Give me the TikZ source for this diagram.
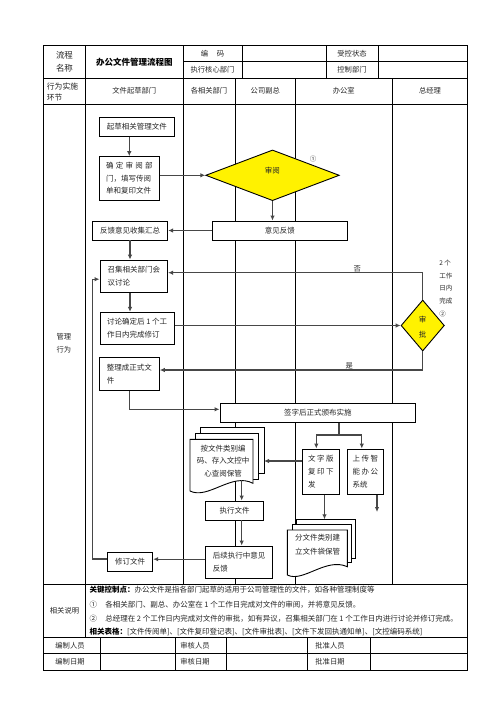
\documentclass[tikz,border=0pt]{standalone}
\usepackage{fontspec}
\setmainfont{Noto Sans CJK SC}
\newfontfamily\cjk{Noto Sans CJK SC}
\usetikzlibrary{arrows.meta,shapes.geometric}
\newcommand\myfs[2]{\fontsize{#1}{#2}\selectfont}
\begin{document}
\begin{tikzpicture}[x=1pt,y=-1pt,
  tbl/.style={line width=0.9pt},
  box/.style={draw, line width=0.9pt, fill=white, inner sep=0pt, align=left, font=\myfs{7.5}{12.8}, text=black!85},
  dia/.style={diamond, draw, line width=0.9pt, fill=yellow, inner sep=0pt},
  arr/.style={line width=1.3pt, draw=black!72, -{Latex[length=5pt,width=4.5pt]}},
  ln/.style={line width=1.3pt, draw=black!72},
  lbl/.style={inner sep=0pt, font=\myfs{7.3}{12}, text=black!85},
  doc/.style={draw, line width=0.9pt, fill=white}
]
\fill[white] (0,0) rectangle (496,702);
\useasboundingbox (0,0) rectangle (496,702);

% ---------- table ----------
\draw[tbl] (43.3,45) rectangle (467.7,670);
\draw[tbl] (183,61.7) -- (467.7,61.7);
\foreach \y in {78.3,104,584.3,637.3,653.3} \draw[tbl] (43.3,\y) -- (467.7,\y);
\draw[tbl] (85.7,45) -- (85.7,637.3);
\draw[tbl] (183,45) -- (183,584.3);
\foreach \x in {242,326,378} \draw[tbl] (\x,45) -- (\x,78.3);
\foreach \x in {235.3,295.3,392.3} \draw[tbl] (\x,78.3) -- (\x,584.3);
\foreach \x in {100.7,175.7,226,307.7,370} \draw[tbl] (\x,637.3) -- (\x,670);

% ---------- header texts ----------
\node[lbl, align=center, font=\myfs{8.5}{12.5}] (hA) at (64.5,62) {流程\\名称};
\node[lbl, font=\bfseries\myfs{8.5}{10}, text=black] (hT) at (134.3,62) {办公文件管理流程图};
\node[lbl] (hB) at (212.5,53.5) {编\hspace{1.2em}码};
\node[lbl] (hC) at (212.5,70) {执行核心部门};
\node[lbl] (hD) at (352,53.5) {受控状态};
\node[lbl] (hE) at (352,70) {控制部门};
\node[lbl, align=left, font=\myfs{7.8}{11}] (hF) at (62.5,91.8) {行为实施\\环节};
\node[lbl] (hG) at (134.3,91) {文件起草部门};
\node[lbl] (hH) at (209,91) {各相关部门};
\node[lbl] (hI) at (265.3,91) {公司副总};
\node[lbl] (hJ) at (343.8,91) {办公室};
\node[lbl] (hK) at (430,91) {总经理};
\node[lbl, align=center, font=\myfs{7.3}{13}] (hL) at (63.8,343.5) {管理\\行为};
\node[lbl] (hM) at (64.5,610.8) {相关说明};

% ---------- explanation ----------
\tikzset{expl/.style={lbl, anchor=west, font=\myfs{7.5}{12}}}
\node[expl] (e1) at (89.3,589.5) {{\bfseries\color{black}关键控制点：}办公文件是指各部门起草的适用于公司管理性的文件，如各种管理制度等};
\node[expl] (e2) at (89.3,604.5) {①\hspace{1.1em}各相关部门、副总、办公室在 1 个工作日完成对文件的审阅，并将意见反馈。};
\node[expl] (e3) at (89.3,619) {②\hspace{1.1em}总经理在 2 个工作日内完成对文件的审批，如有异议，召集相关部门在 1 个工作日内进行讨论并修订完成。};
\node[expl] (e4) at (89.3,632) {{\bfseries\color{black}相关表格：}[文件传阅单]、[文件复印登记表]、[文件审批表]、[文件下发回执通知单]、[文控编码系统]};

% ---------- bottom rows ----------
\node[lbl] (b1) at (70,645.3) {编制人员};
\node[lbl] (b2) at (195,645.3) {审核人员};
\node[lbl] (b3) at (330,645.3) {批准人员};
\node[lbl] (b4) at (70,661.7) {编制日期};
\node[lbl] (b5) at (195,661.7) {审核日期};
\node[lbl] (b6) at (330,661.7) {批准日期};

% ---------- document stacks ----------
\draw[doc] (200,427.3) rectangle (264,473.3);
\draw[doc] (195,433.3) rectangle (258.5,479);
\draw[doc] (190,439.3) -- (190,491) .. controls (208,500) and (232,472) .. (253,483.3) -- (253,439.3) -- cycle;
\node[lbl, align=center, font=\myfs{7.5}{12.5}] (t1) at (223,461) {按文件类别编\\码、存入文控中\\心查阅保管};

\draw[doc] (296.7,519.3) rectangle (355,558.3);
\draw[doc] (292,524.5) rectangle (351.5,562.7);
\draw[doc] (287.3,530) -- (287.3,575) .. controls (303,583) and (326,557) .. (347.3,566.7) -- (347.3,530) -- cycle;
\node[lbl, align=center, font=\myfs{7.5}{14}] (t2) at (317.5,544.5) {分文件类别建\\立文件袋保管};

% ---------- flow nodes ----------
\node[box, minimum width=75pt, minimum height=18.7pt] (n1) at (136.8,126.7) {起草相关管理文件};
\node[box, minimum width=60pt, minimum height=43.3pt, font=\myfs{7.5}{12.7}] (n2) at (129.3,178.3)
  {\makebox[46.5pt][l]{确\hfill 定\hfill 审\hfill 阅\hfill 部}\\门，填写传阅\\单和复印文件};
\node[dia, minimum width=133.6pt, minimum height=50.7pt] (d1) at (272.5,175.3) {};
\node[lbl, font=\myfs{7.5}{12}] (d1t) at (272.3,171) {审阅};
\node[lbl, font=\myfs{6.5}{10}] (c1) at (313,159) {①};
\node[box, minimum width=135pt, minimum height=19pt] (n3) at (279.8,230.5) {意见反馈};
\node[box, minimum width=75.4pt, minimum height=19pt] (n4) at (130,230.5) {反馈意见收集汇总};
\node[box, minimum width=67.7pt, minimum height=32.3pt, font=\myfs{7.5}{13}] (n5) at (133.8,276.2) {召集相关部门会\\议讨论};
\node[box, minimum width=74.3pt, minimum height=32pt, font=\myfs{7.5}{13.3}] (n6) at (137.2,328.3) {讨论确定后 1 个工\\作日内完成修订};
\node[dia, minimum width=43.3pt, minimum height=51pt] (d2) at (422.7,325.5) {};
\node[lbl, align=center, font=\myfs{7.5}{14.3}] (d2t) at (422.5,327.2) {审\\批};
\node[lbl, align=left, font=\myfs{6.5}{12.8}] (sn) at (445.8,288.5) {2 个\\工作\\日内\\完成\\②};
\node[box, minimum width=60pt, minimum height=33.4pt, font=\myfs{7.5}{12.6}] (n7) at (129.3,374) {整理成正式文\\件};
\node[box, minimum width=195.7pt, minimum height=19pt] (n8) at (317.8,412.8) {签字后正式颁布实施};
\node[box, minimum width=37pt, minimum height=45.3pt, font=\myfs{7.5}{12.7}] (n9) at (320.8,471.7)
  {\makebox[25.5pt][l]{文\hfill 字\hfill 版}\\\makebox[25.5pt][l]{复\hfill 印\hfill 下}\\发};
\node[box, minimum width=36pt, minimum height=45.3pt, font=\myfs{7.5}{12.7}] (n10) at (365.3,471.7)
  {\makebox[25.5pt][l]{上\hfill 传\hfill 智}\\\makebox[25.5pt][l]{能\hfill 办\hfill 公}\\系统};
\node[box, minimum width=58pt, minimum height=19pt] (n11) at (234.5,510.5) {执行文件};
\node[box, minimum width=66.7pt, minimum height=32.3pt, font=\myfs{7.5}{13.3}] (n12) at (239,562.2) {后续执行中意见\\反馈};
\node[box, minimum width=45pt, minimum height=19.4pt] (n13) at (130.2,562) {修订文件};

% ---------- connectors ----------
\draw[arr] (n1.south -| n2.north) -- (n2.north);
\draw[arr] (n2.east |- d1.west) -- (d1.west);
\draw[arr] (d1.south) -- (d1.south |- n3.north);
\draw[arr] (n3.west) -- (n4.east);
\draw[arr] (n4.south) -- (n4.south |- n5.north);
\draw[arr] (n4.south |- n5.south) -- (n4.south |- n6.north);
\draw[arr] (n6.east |- d2.west) -- (d2.west);
\draw[arr] (d2.north) |- ([yshift=3.5pt]n5.east);
\node[lbl] (no) at (357.3,268.5) {否};
\draw[arr] (d2.south) |- ([yshift=4pt]n7.east);
\node[lbl] (yes) at (349.3,366) {是};
\draw[arr] (n7.south) |- ([yshift=3.5pt]n8.west);
\coordinate (sp) at (339,435);
\draw[ln] (sp |- n8.south) -- (sp);
\draw[arr] (sp) -| ([xshift=-4.5pt]n9.north);
\draw[arr] (sp) -| ([xshift=-3.5pt]n10.north);
\coordinate (fe) at (377,512);
\draw[arr] (fe |- n10.south) -- (fe);
\coordinate (dk1) at (264,461);
\draw[arr] ([yshift=10.7pt]n9.west) -- (dk1);
\coordinate (dk1s) at (241.7,480);
\draw[arr] (dk1s) -- (dk1s |- n11.north);
\draw[arr] (dk1s |- n11.south) -- (dk1s |- n12.north);
\draw[arr] ([yshift=3pt]n12.west) -- ([yshift=3pt]n12.west -| n13.east);
\draw[arr] ([yshift=3pt]n13.west) -- ++(-15,0) |- ([yshift=-3pt]n5.west);
\coordinate (dk2) at (324.5,519.3);
\draw[arr] ([xshift=3.7pt]n9.south) -- (dk2);
\end{tikzpicture}
\end{document}
